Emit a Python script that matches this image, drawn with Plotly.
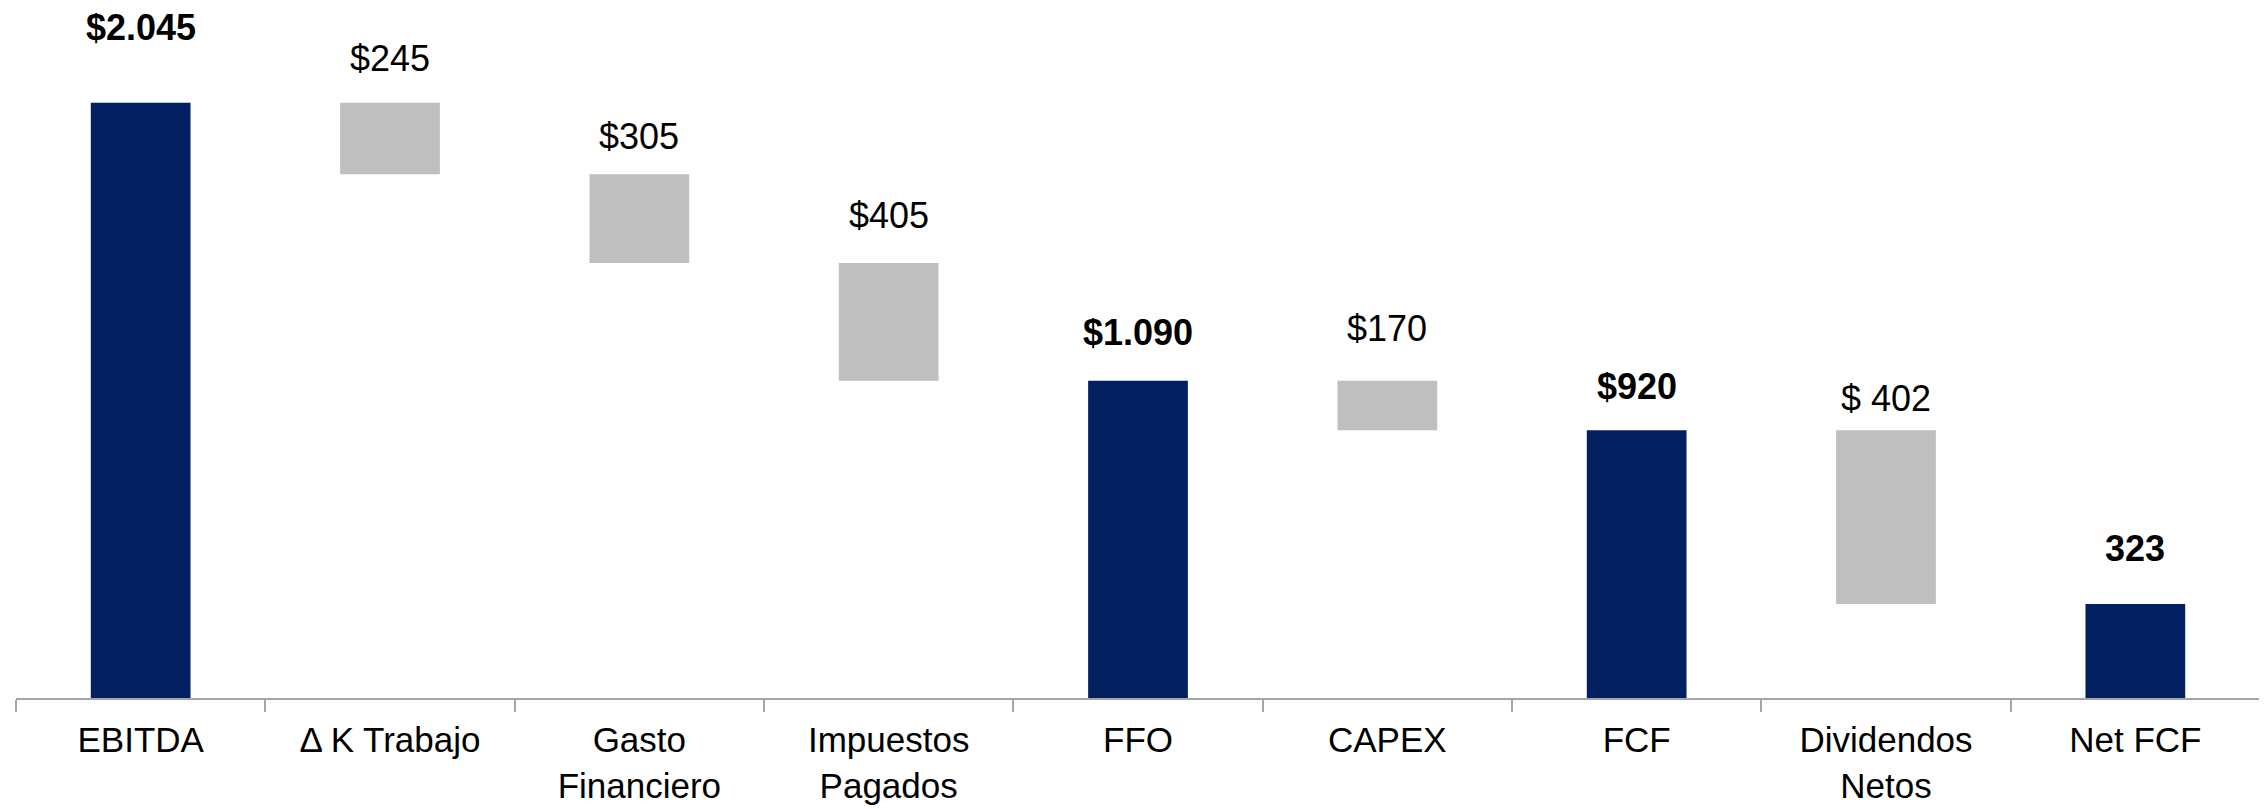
import plotly.graph_objects as go

# Flujo de caja: EBITDA -> Net FCF
categories = ["EBITDA", "Δ K Trabajo", "Gasto<br>Financiero", "Impuestos<br>Pagados",
              "FFO", "CAPEX", "FCF", "Dividendos<br>Netos", "Net FCF"]
kinds = ["total", "step", "step", "step", "total", "step", "total", "step", "total"]
# bar heights as drawn in the picture (the dividend bar spans 920 -> 323)
amounts = [2045, 245, 305, 405, 1090, 170, 920, 597, 323]
labels = ["$2.045", "$245", "$305", "$405", "$1.090", "$170", "$920", "$ 402", "323"]

NAVY = "#022060"
GREY = "#BFBFBF"
FONT = "Liberation Sans, Arial, sans-serif"

# build bases from a running level
bases, tops = [], []
level = 0
for kind, amt in zip(kinds, amounts):
    if kind == "total":
        level = amt
        bases.append(0)
        tops.append(amt)
    else:
        bases.append(level - amt)
        tops.append(level)
        level = level - amt

colors = [NAVY if k == "total" else GREY for k in kinds]

fig = go.Figure()
fig.add_trace(go.Bar(
    x=categories,
    y=amounts,
    base=bases,
    width=0.4,
    marker=dict(color=colors, line=dict(width=0)),
    hoverinfo="skip",
))

# label offsets above each bar top (px)
label_shift = [75, 44, 38, 47, 48, 52, 44, 32, 56]
for cat, top, lab, kind, dy in zip(categories, tops, labels, kinds, label_shift):
    # totals in bold
    txt = f"<b>{lab}</b>" if kind == "total" else lab
    fig.add_annotation(
        x=cat, y=top, text=txt, showarrow=False,
        xanchor="center", yanchor="middle", yshift=dy,
        font=dict(size=36, color="black", family=FONT),
    )

# page body has an 8px margin, so margins are offset to compensate
fig.update_layout(
    width=2267,
    height=809,
    margin=dict(l=8, r=15, t=0, b=119),
    plot_bgcolor="white",
    paper_bgcolor="white",
    showlegend=False,
    font=dict(family=FONT, color="black"),
    xaxis=dict(
        showline=True, linecolor="#A6A6A6", linewidth=2,
        ticks="outside", tickson="boundaries", ticklen=12,
        tickcolor="#A6A6A6", tickwidth=2,
        tickfont=dict(size=35, color="black"),
        ticklabelstandoff=10,
        showgrid=False,
    ),
    yaxis=dict(range=[0, 2371], visible=False, showgrid=False, zeroline=False),
)

fig.write_html("out.html")
